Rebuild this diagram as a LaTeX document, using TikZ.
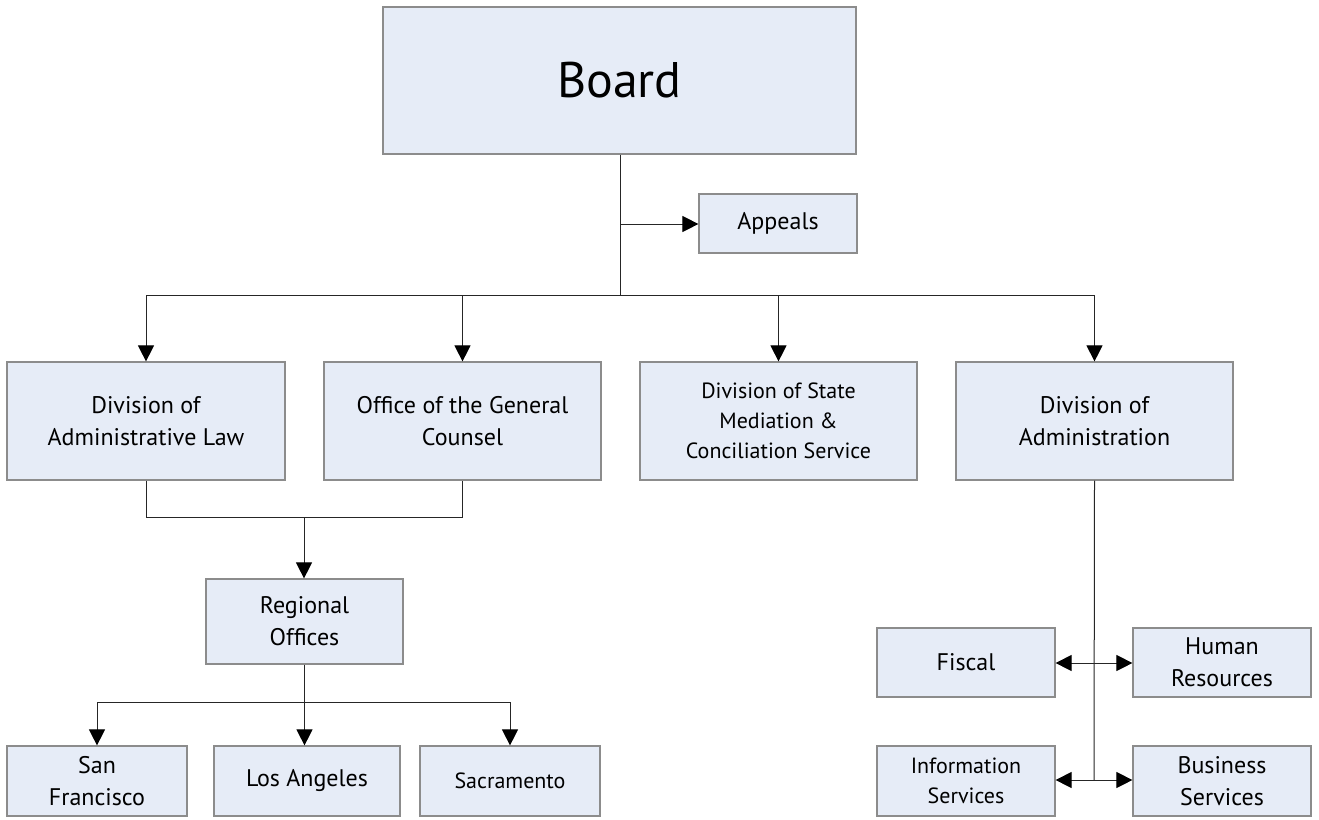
\documentclass[tikz,border=0pt]{standalone}
\usepackage{fontspec}
\setmainfont{PT Sans}
\usetikzlibrary{arrows.meta}
\begin{document}
\begin{tikzpicture}[x=1pt,y=-1pt,
  box/.style={draw=black!45, fill={rgb,255:red,230;green,236;blue,247}, line width=1.2pt, inner sep=0pt, align=center, font=\fontsize{24}{32}\selectfont},
  conn/.style={draw=black!85, line width=1pt},
  tip/.tip={Triangle[length=16pt,width=16pt,color=black]},
  arr/.style={conn, -tip},
  darr/.style={conn, tip-tip}]
\useasboundingbox (0,0) rectangle (1319,819);
\node[box, minimum width=473, minimum height=147, font=\fontsize{50}{56}\selectfont] (board) at (619.5,80.5) {Board};
\node[box, minimum width=158, minimum height=59] (appeals) at (778,223.5) {Appeals};
\node[box, minimum width=278, minimum height=118] (dal) at (146,421) {Division of\\Administrative Law};
\node[box, minimum width=277, minimum height=118] (ogc) at (462.5,421) {Office of the General\\Counsel};
\node[box, minimum width=277, minimum height=118, font=\fontsize{22}{30}\selectfont] (dsm) at (778.5,421) {Division of State\\Mediation \&\\Conciliation Service};
\node[box, minimum width=277, minimum height=118] (da) at (1094.5,421) {Division of\\Administration};
\node[box, minimum width=197, minimum height=85] (reg) at (304.5,621.5) {Regional\\Offices};
\node[box, minimum width=180, minimum height=70] (sf) at (97,781) {San\\Francisco};
\node[box, minimum width=186, minimum height=70] (la) at (307,781) {Los Angeles};
\node[box, minimum width=180, minimum height=70, font=\fontsize{22}{28}\selectfont] (sac) at (510,781) {Sacramento};
\node[box, minimum width=178, minimum height=69] (fis) at (966,662.5) {Fiscal};
\node[box, minimum width=178, minimum height=69] (hr) at (1222,662.5) {Human\\Resources};
\node[box, minimum width=178, minimum height=70, font=\fontsize{22}{30}\selectfont] (is) at (966,781) {Information\\Services};
\node[box, minimum width=178, minimum height=70] (bs) at (1222,781) {Business\\Services};
% board connectors
\coordinate (bus) at (620,295);
\coordinate (ap) at (620,224);
\draw[conn] (board.south -| bus) -- (bus);
\draw[arr] (ap) -- (appeals.west |- ap);
\draw[conn] (dal.north |- bus) -- (da.north |- bus);
\draw[arr] (dal.north |- bus) -- (dal.north);
\draw[arr] (ogc.north |- bus) -- (ogc.north);
\draw[arr] (dsm.north |- bus) -- (dsm.north);
\draw[arr] (da.north |- bus) -- (da.north);
% regional
\coordinate (mid) at (304,517);
\draw[conn] (dal.south) -- (dal.south |- mid) -- (ogc.south |- mid) -- (ogc.south);
\draw[arr] (mid) -- (mid |- reg.north);
\coordinate (rbus) at (304,702);
\draw[conn] (reg.south) -- (reg.south |- rbus);
\draw[conn] (sf.north |- rbus) -- (sac.north |- rbus);
\draw[arr] (sf.north |- rbus) -- (sf.north);
\draw[arr] (reg.south |- rbus) -- (reg.south |- la.north);
\draw[arr] (sac.north |- rbus) -- (sac.north);
% administration
\coordinate (a1) at (1094,663);
\coordinate (a2) at (1094,780);
\draw[conn] (da.south) -- (a2);
\draw[darr] (fis.east |- a1) -- (hr.west |- a1);
\draw[darr] (is.east |- a2) -- (bs.west |- a2);
\end{tikzpicture}
\end{document}
